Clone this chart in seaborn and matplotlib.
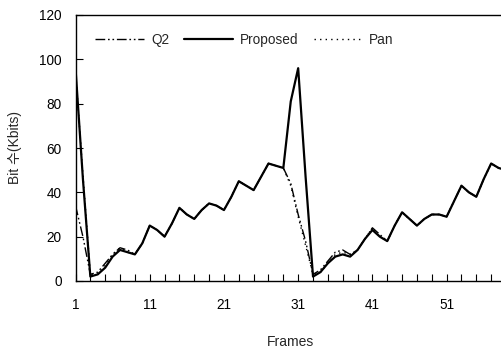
import matplotlib
matplotlib.use("Agg")
import matplotlib.pyplot as plt
import seaborn as sns
import pandas as pd

frames = list(range(1, 60))
proposed = [96, 46, 2, 3, 6, 11, 14, 13, 12, 17,
            25, 23, 20, 26, 33, 30, 28, 32, 35, 34,
            32, 38, 45, 43, 41, 47, 53, 52, 51, 81,
            96, 47, 2, 4, 8, 11, 12, 11, 14, 19,
            23, 20, 18, 25, 31, 28, 25, 28, 30, 30,
            29, 36, 43, 40, 38, 46, 53, 51, 50]
q2 = [34, 20, 3, 4, 8, 12, 15, 14, 12, 17,
      25, 23, 20, 26, 33, 30, 28, 32, 35, 34,
      32, 38, 45, 43, 41, 47, 53, 52, 51, 44,
      30, 18, 3, 5, 9, 13, 14, 12, 14, 19,
      24, 21, 18, 25, 31, 28, 25, 28, 30, 30,
      29, 36, 43, 40, 38, 46, 53, 51, 50]
pan = [95, 48, 3, 3, 7, 12, 15, 13, 12, 17,
       25, 23, 20, 26, 33, 30, 28, 32, 35, 34,
       32, 38, 45, 43, 41, 47, 53, 52, 51, 43,
       29, 16, 3, 4, 8, 12, 13, 12, 14, 19,
       24, 20, 18, 25, 31, 28, 25, 28, 30, 30,
       29, 36, 43, 40, 38, 46, 53, 51, 50]
x_labels = [1, 11, 21, 31, 41, 51]
y_ticks = [0, 20, 40, 60, 80, 100, 120]

sns.set_theme(style="white")
plt.rcParams['font.family'] = ['Liberation Sans', 'Noto Sans CJK KR', 'DejaVu Sans']

fig = plt.figure(figsize=(5.01, 3.51), dpi=100)
W, H = 501, 351
left, right, top, bottom = 75.5, 506, 15, 281
ax = fig.add_axes([left / W, (H - bottom) / H, (right - left) / W, (bottom - top) / H])

df = pd.DataFrame({"frame": frames, "Q2": q2, "Proposed": proposed, "Pan": pan})

sns.lineplot(data=df, x="frame", y="Q2", ax=ax, color="black", lw=1.0,
             label="Q2")
sns.lineplot(data=df, x="frame", y="Proposed", ax=ax, color="black", lw=1.6,
             label="Proposed")
sns.lineplot(data=df, x="frame", y="Pan", ax=ax, color="black", lw=1.0,
             label="Pan")
lines = ax.get_lines()
lines[0].set_dashes([7, 2, 1.2, 2, 1.2, 2])
lines[2].set_linestyle((0, (1, 3)))

ax.set_xlim(1, 59)
ax.set_ylim(0, 120)
ax.set_xticks(list(range(1, 60, 2)))
ax.set_xticklabels([str(f) if f in x_labels else "" for f in range(1, 60, 2)])
ax.set_yticks(y_ticks)
ax.tick_params(axis="both", direction="in", length=5, width=0.8, colors="black",
               labelsize=9.8, bottom=True, left=True)
ax.tick_params(axis="x", pad=12)
ax.tick_params(axis="y", pad=10)

for s in ["left", "bottom", "top"]:
    ax.spines[s].set_visible(True)
    ax.spines[s].set_color("black")
    ax.spines[s].set_linewidth(1.0)
ax.spines["right"].set_visible(False)

ax.set_xlabel("Frames", fontsize=10, labelpad=17)
ax.set_ylabel("Bit 수(Kbits)", fontsize=10, labelpad=12)

handles, labels = ax.get_legend_handles_labels()
leg = ax.legend(handles, labels, loc="upper left", bbox_to_anchor=(0.018, 0.98), ncol=3,
                frameon=False, fontsize=9.8, handlelength=3.6, columnspacing=1.1,
                handletextpad=0.5)

fig.savefig("out.png", dpi=100)
